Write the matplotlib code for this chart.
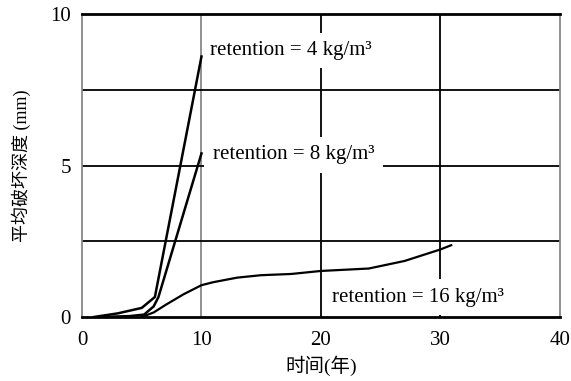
import matplotlib
matplotlib.use("Agg")
import matplotlib.pyplot as plt

# values
years_4 = [1.0, 3.0, 5.0, 6.1, 10.0]
depth_4 = [0.0, 0.12, 0.3, 0.66, 8.6]

years_8 = [1.5, 4.0, 5.2, 6.0, 6.4, 10.0]
depth_8 = [0.0, 0.03, 0.08, 0.35, 0.66, 5.4]

years_16 = [5.0, 6.0, 7.0, 8.5, 10.0, 11.0, 13.0, 15.0, 17.5, 20.0, 24.0, 27.0, 30.0, 30.9]
depth_16 = [0.0, 0.15, 0.4, 0.75, 1.05, 1.15, 1.3, 1.38, 1.42, 1.52, 1.6, 1.85, 2.23, 2.37]

labels = ["retention = 4 kg/m³", "retention = 8 kg/m³", "retention = 16 kg/m³"]
label_pos = [(10.7, 8.8), (10.95, 5.35), (20.9, 0.66)]

serif = ["Liberation Serif", "Noto Sans CJK SC"]
plt.rcParams["font.family"] = serif

fig = plt.figure(figsize=(5.71, 3.81), dpi=100)
ax = fig.add_axes([0.1436, 0.168, 0.837, 0.795])

# grid
for gx in [10, 20, 30]:
    c = "#888888" if gx == 10 else "black"
    ax.axvline(gx, color=c, lw=1.3, zorder=1)
for gy in [2.5, 5, 7.5]:
    ax.axhline(gy, color="black", lw=1.3, zorder=1)

ax.plot(years_4, depth_4, color="black", lw=1.8, zorder=3)
ax.plot(years_8, depth_8, color="black", lw=1.8, zorder=3)
ax.plot(years_16, depth_16, color="black", lw=1.6, zorder=3)

for text, (tx, ty) in zip(labels, label_pos):
    ax.text(tx, ty, text, fontsize=15, va="center", ha="left", zorder=2,
            bbox=dict(facecolor="white", edgecolor="none", pad=6))

ax.set_xlim(0, 40)
ax.set_ylim(0, 10)
ax.set_xticks([0, 10, 20, 30, 40])
ax.set_yticks([0, 5, 10])
ax.tick_params(length=0, labelsize=15)
ax.tick_params(axis="x", pad=10)
ax.tick_params(axis="y", pad=8)

ax.spines["top"].set_linewidth(2)
ax.spines["bottom"].set_linewidth(2)
ax.spines["left"].set_color("#888888")
ax.spines["left"].set_linewidth(1.3)
ax.spines["right"].set_color("#888888")
ax.spines["right"].set_linewidth(1.3)

ax.set_xlabel("时间(年)", fontsize=14, labelpad=4)
ax.set_ylabel("平均破坏深度 (mm)", fontsize=13, labelpad=14)

fig.savefig("out.png", dpi=100)
